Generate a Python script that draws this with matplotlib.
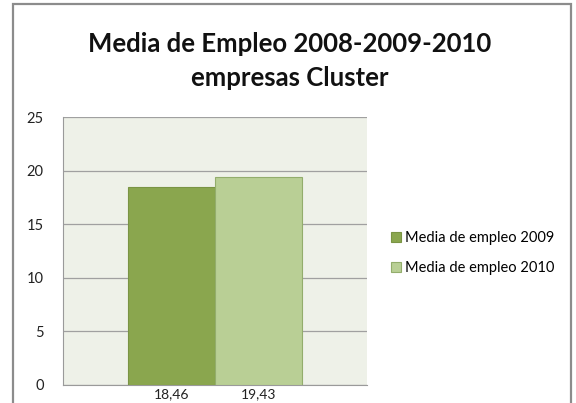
import matplotlib
matplotlib.use("Agg")
import matplotlib.pyplot as plt
from matplotlib.patches import Rectangle

title = "Media de Empleo 2008-2009-2010\nempresas Cluster"
series_names = ["Media de empleo 2009", "Media de empleo 2010"]
values = [18.46, 19.43]
colors = ["#8aa64e", "#b9cf95"]
edge_colors = ["#7a9444", "#93ad6c"]
yticks = [0, 5, 10, 15, 20, 25]

W, H = 576, 403
fig = plt.figure(figsize=(W / 100, H / 100), dpi=100)
plt.rcParams['font.family'] = ['Lato', 'DejaVu Sans']

# chart border
fig.patches.append(Rectangle((13 / W, -0.05), (571 - 13) / W, 1.05 - 4 / H,
                             transform=fig.transFigure, fill=False,
                             edgecolor="#8c8c8c", linewidth=1.6))

ax = fig.add_axes([63 / W, 1 - 385 / H, (367 - 63) / W, (385 - 117) / H])
ax.set_facecolor("#eef1e8")
w = 87 / 304
xs = [-w / 2, w / 2]
bars = []
for x, v, c, ec, n in zip(xs, values, colors, edge_colors, series_names):
    b = ax.bar(x, v, width=w, color=c, edgecolor=ec, linewidth=0.8, label=n, zorder=3)
    bars.append(b)
ax.set_xlim(-0.5, 0.5)
ax.set_ylim(0, 25)
ax.set_yticks(yticks)
ax.set_yticklabels([str(t) for t in yticks], fontsize=10.5, color="#222222")
ax.yaxis.grid(True, color="#a0a0a0", linewidth=0.9, zorder=0)
ax.set_axisbelow(True)
ax.set_xticks(xs)
ax.set_xticklabels([f"{v:.2f}".replace(".", ",") for v in values], fontsize=10, color="#222222")
ax.tick_params(axis="both", length=0, pad=2)
ax.tick_params(axis="y", pad=14)
for s in ["top", "right"]:
    ax.spines[s].set_visible(False)
ax.spines["left"].set_color("#9a9a9a")
ax.spines["bottom"].set_color("#9a9a9a")

fig.text(290 / W, 1 - 61 / H, title, ha="center", va="center", fontsize=18.5,
         fontweight="bold", linespacing=1.5, color="#111111")

fig.legend(handles=[b[0] for b in bars], labels=series_names, loc="center left",
           bbox_to_anchor=(385 / W, 1 - 253 / H), frameon=False, fontsize=10.5,
           handlelength=0.7, handleheight=0.7, handletextpad=0.3, labelspacing=1.1,
           borderaxespad=0)

fig.savefig("out.png", dpi=100)
